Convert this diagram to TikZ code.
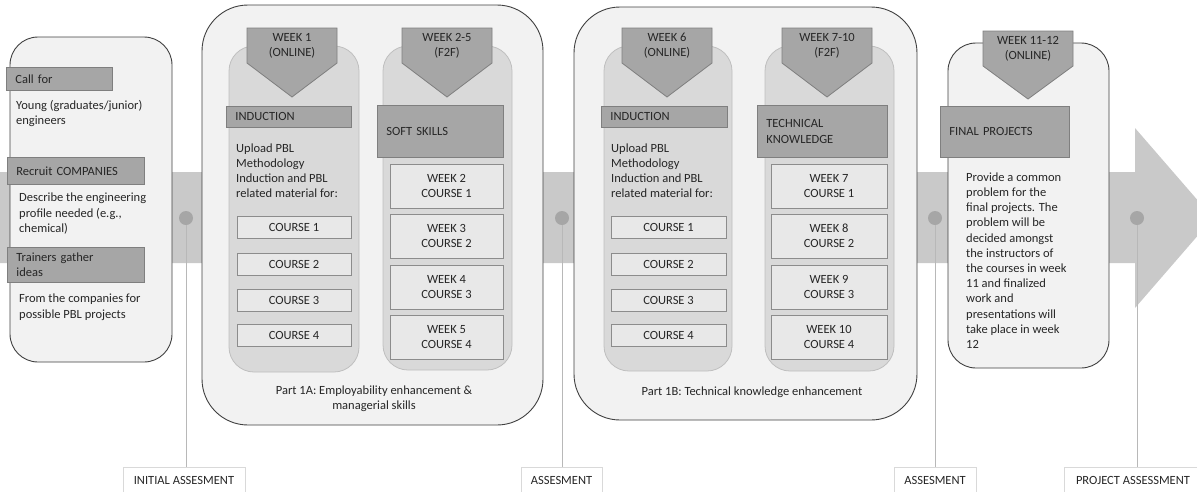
\documentclass[tikz,border=0pt]{standalone}
\usepackage{fontspec}
\setmainfont{Carlito}
\usepackage{xcolor}
\definecolor{band}{HTML}{C9C9C9}
\definecolor{dotgray}{HTML}{A6A6A6}
\definecolor{stemgray}{HTML}{B8B8B8}
\definecolor{panel}{HTML}{F2F2F2}
\definecolor{rim}{HTML}{404040}
\definecolor{column}{HTML}{D9D9D9}
\definecolor{columnrim}{HTML}{BFBFBF}
\definecolor{head}{HTML}{A6A6A6}
\definecolor{headrim}{HTML}{7F7F7F}
\definecolor{course}{HTML}{E8E8E8}
\definecolor{courserim}{HTML}{8C8C8C}
\definecolor{ink}{HTML}{262626}

\begin{document}
\begin{tikzpicture}[x=1pt,y=-1pt]
			\tikzstyle{every node}+=[inner sep=0pt, text=ink, font=\fontsize{12.5}{15.2}\selectfont]
			\tikzstyle{outer}=[draw=rim, fill=panel, line width=0.9pt]
			\tikzstyle{column}=[draw=columnrim, fill=column, line width=0.8pt, rounded corners=25pt]
			\tikzstyle{tab}=[draw=headrim, fill=head, line width=0.8pt]
			\tikzstyle{headbar}=[draw=headrim, fill=head, line width=0.8pt, anchor=north west, align=left, inner xsep=9pt]
			\tikzstyle{body}=[anchor=north west, align=left]
			\tikzstyle{coursebox}=[draw=courserim, fill=course, line width=0.8pt, align=center, minimum height=22pt]
			\tikzstyle{weekbox}=[draw=courserim, fill=course, line width=0.8pt, align=center, minimum height=44pt]
			\tikzstyle{dotnode}=[circle, fill=dotgray, minimum size=14pt]
			\tikzstyle{stem}=[draw=stemgray, line width=0.8pt]
			\tikzstyle{assess}=[draw=black!15, fill=white, line width=0.6pt, minimum height=27pt, anchor=north]
			\useasboundingbox (0,0) rectangle (1197,491);
			\clip (0,0) rectangle (1197,491);
			% timeline band
			\fill [band] (0,172) -- (1135,172) -- (1135,128) -- (1213,218) -- (1135,308) -- (1135,263) -- (0,263) -- cycle;
			% milestones
			\node [dotnode] (d1) at (186,218) {};
			\node [dotnode] (d2) at (562,218) {};
			\node [dotnode] (d3) at (935,218) {};
			\node [dotnode] (d4) at (1137,218) {};
			\node [assess, minimum width=122pt] (a1) at (184,467) {INITIAL ASSESMENT};
			\node [assess, minimum width=81pt] (a2) at (561.5,467) {ASSESMENT};
			\node [assess, minimum width=82pt] (a3) at (935,467) {ASSESMENT};
			\node [assess, minimum width=138pt] (a4) at (1133,467) {PROJECT ASSESSMENT};
			\draw [stem] (d1) -- (d1 |- a1.north);
			\draw [stem] (d2) -- (d2 |- a2.north);
			\draw [stem] (d3) -- (d3 |- a3.north);
			\draw [stem] (d4) -- (d4 |- a4.north);
			% preparation
			\draw [outer, rounded corners=28pt] (10,37) rectangle (172,362);
			\node [headbar, text width=88pt, minimum height=23pt] (callfor) at (6,67) {Call for};
			\node [body] (young) at (16,100) {Young (graduates/junior)\\engineers};
			\node [headbar, text width=119pt, minimum height=27pt] (recruit) at (7,157) {Recruit COMPANIES};
			\node [body] (profile) at (19,193) {Describe the engineering\\profile needed (e.g.,\\chemical)};
			\node [headbar, text width=119pt, minimum height=35pt] (trainers) at (7,247) {Trainers gather\\ideas};
			\node [body] (ideas) at (19,294) {From the companies for\\possible PBL projects};
			% part 1A
			\draw [outer, rounded corners=46pt] (202,5) rectangle (543,425);
			\draw [column] (229,46) rectangle (359,372);
			\draw [column] (383,46) rectangle (512,370);
			\draw [tab] (247,28) -- (337,28) -- (337,63) -- (292,97) -- (247,63) -- cycle;
			\node [align=center] (wk1) at (292,45.5) {WEEK 1\\(ONLINE)};
			\draw [tab] (402,28) -- (492,28) -- (492,63) -- (447,97) -- (402,63) -- cycle;
			\node [align=center] (wk2) at (447,45.5) {WEEK 2-5\\(F2F)};
			\node [headbar, text width=107pt, minimum height=21pt] (ind1) at (226,106) {INDUCTION};
			\node [body] (upload1) at (236,143.5) {Upload PBL\\Methodology\\Induction and PBL\\related material for:};
			\node [coursebox, minimum width=114pt] (c11) at (294,227) {COURSE 1};
			\node [coursebox, minimum width=114pt] (c12) at (294,264.5) {COURSE 2};
			\node [coursebox, minimum width=114pt] (c13) at (294,300) {COURSE 3};
			\node [coursebox, minimum width=114pt] (c14) at (294,335.5) {COURSE 4};
			\node [headbar, text width=108pt, minimum height=52pt] (soft) at (377,105) {SOFT SKILLS};
			\node [weekbox, minimum width=113pt] (w2) at (446.5,186) {WEEK 2\\COURSE 1};
			\node [weekbox, minimum width=113pt] (w3) at (446.5,236) {WEEK 3\\COURSE 2};
			\node [weekbox, minimum width=113pt] (w4) at (446.5,287) {WEEK 4\\COURSE 3};
			\node [weekbox, minimum width=113pt] (w5) at (446.5,337) {WEEK 5\\COURSE 4};
			\node [align=center] (part1a) at (374,399) {Part 1A: Employability enhancement \&\\managerial skills};
			% part 1B
			\draw [outer, rounded corners=46pt] (574,7) rectangle (917,420);
			\draw [column] (604,46) rectangle (732,371);
			\draw [column] (765,46) rectangle (894,371);
			\draw [tab] (622,28) -- (712,28) -- (712,63) -- (667,97) -- (622,63) -- cycle;
			\node [align=center] (wk6) at (667,45.5) {WEEK 6\\(ONLINE)};
			\draw [tab] (782,28) -- (872,28) -- (872,63) -- (827,97) -- (782,63) -- cycle;
			\node [align=center] (wk7) at (827,45.5) {WEEK 7-10\\(F2F)};
			\node [headbar, text width=108pt, minimum height=21pt] (ind2) at (601,106) {INDUCTION};
			\node [body] (upload2) at (611,143.5) {Upload PBL\\Methodology\\Induction and PBL\\related material for:};
			\node [coursebox, minimum width=115pt] (c21) at (668.5,227) {COURSE 1};
			\node [coursebox, minimum width=115pt] (c22) at (668.5,264.5) {COURSE 2};
			\node [coursebox, minimum width=115pt] (c23) at (668.5,300) {COURSE 3};
			\node [coursebox, minimum width=115pt] (c24) at (668.5,335.5) {COURSE 4};
			\node [headbar, text width=112pt, minimum height=52pt] (tech) at (757,105) {TECHNICAL\\KNOWLEDGE};
			\node [weekbox, minimum width=116pt] (w7) at (829,186) {WEEK 7\\COURSE 1};
			\node [weekbox, minimum width=116pt] (w8) at (829,236) {WEEK 8\\COURSE 2};
			\node [weekbox, minimum width=116pt] (w9) at (829,287) {WEEK 9\\COURSE 3};
			\node [weekbox, minimum width=116pt] (w10) at (829,337) {WEEK 10\\COURSE 4};
			\node (part1b) at (752,392) {Part 1B: Technical knowledge enhancement};
			% final projects
			\draw [outer, rounded corners=28pt] (948,43) rectangle (1109,368);
			\draw [tab] (983,31) -- (1073,31) -- (1073,66) -- (1028,99) -- (983,66) -- cycle;
			\node [align=center] (wk11) at (1028,48.5) {WEEK 11-12\\(ONLINE)};
			\node [headbar, text width=111pt, minimum height=51pt] (final) at (940,106) {FINAL PROJECTS};
			\node [body] (common) at (966,172.5) {Provide a common\\problem for the\\final projects. The\\problem will be\\decided amongst\\the instructors of\\the courses in week\\11 and finalized\\work and\\presentations will\\take place in week\\12};
		\end{tikzpicture}
\end{document}
